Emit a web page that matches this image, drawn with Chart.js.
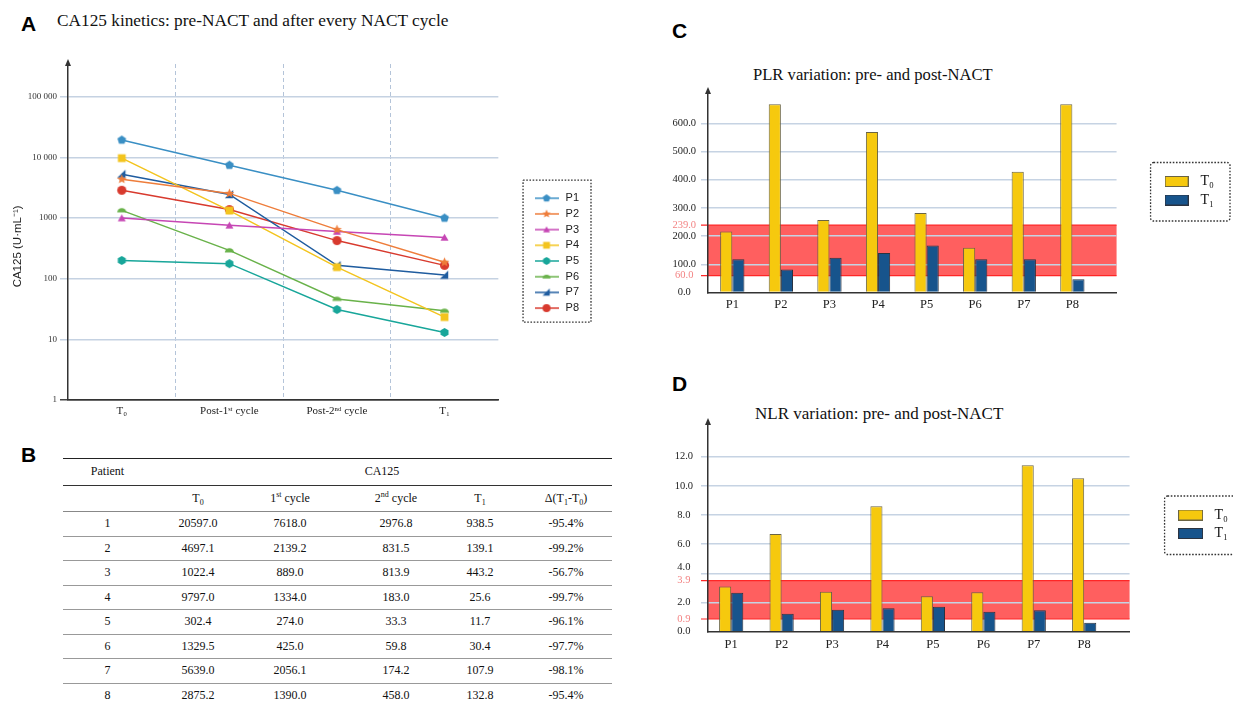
<!DOCTYPE html>
<html>
<head>
<meta charset="utf-8">
<script src="https://cdn.jsdelivr.net/npm/chart.js@4.4.0/dist/chart.umd.min.js"></script>
<style>
html, body { margin: 0; padding: 0; background: #fff; overflow: hidden; width: 1233px; height: 701px; }
.abs { position: absolute; white-space: nowrap; line-height: 1; }
.letter { font: bold 21px 'Liberation Sans', Arial, sans-serif; color: #000; }
.ttl { font-family: 'Liberation Serif', 'Times New Roman', serif; color: #111; }
canvas { position: absolute; }
#tbl { position: absolute; left: 63px; top: 458px; width: 549px; border-collapse: collapse; table-layout: fixed;
       font: 12px 'Liberation Serif', 'Times New Roman', serif; color: #111; border-top: 1.5px solid #222; }
#tbl td { padding: 0; text-align: center; vertical-align: middle; line-height: 1.1; }
#tbl tr.h1 td { height: 26px; border-bottom: 1.5px solid #333; }
#tbl tr.h2 td { height: 25px; border-bottom: 1.5px solid #888; }
#tbl tr.r td { height: 23.5px; border-bottom: 1.5px solid #999; }
#tbl tr.r:last-child td { border-bottom: none; }
#tbl td.c3 { padding-right: 8px; }
#tbl td.c4 { padding-left: 9px; }
#tbl td.c5 { padding-right: 8px; }
#tbl td.c6 { padding-right: 9px; }
#tbl sub, #tbl sup { font-size: 8px; line-height: 0; }
</style>
</head>
<body>
<div class="abs letter" style="left:21px; top:12px;">A</div>
<div class="abs ttl" style="left:57px; top:11.5px; font-size:17.3px;">CA125 kinetics: pre-NACT and after every NACT cycle</div>
<canvas id="chartA" width="610" height="390" style="left:0; top:40px;"></canvas>

<div class="abs letter" style="left:21px; top:443px;">B</div>
<table id="tbl"></table>

<div class="abs letter" style="left:672px; top:19px;">C</div>
<div class="abs ttl" style="left:753px; top:67px; font-size:16.6px;">PLR variation: pre- and post-NACT</div>
<canvas id="chartC" width="573" height="265" style="left:660px; top:55px;"></canvas>

<div class="abs letter" style="left:672px; top:372px;">D</div>
<div class="abs ttl" style="left:755px; top:405px; font-size:17px;">NLR variation: pre- and post-NACT</div>
<canvas id="chartD" width="600" height="265" style="left:660px; top:395px;"></canvas>

<script>
// ---- panel A data ----
const timepoints = ['T\u2080', 'Post-1\u02E2\u1D57 cycle', 'Post-2\u207F\u1D48 cycle', 'T\u2081'];
const patients = ['P1', 'P2', 'P3', 'P4', 'P5', 'P6', 'P7', 'P8'];
const caP1 = [19400, 7450, 2870, 1000];
const caP2 = [4370, 2550, 645, 187];
const caP3 = [1000, 760, 600, 480];
const caP4 = [9730, 1330, 155, 23.3];
const caP5 = [200, 177, 31, 13];
const caP6 = [1340, 293, 46.4, 29.5];
const caP7 = [5290, 2450, 166, 115];
const caP8 = [2870, 1380, 425, 166];
const caSeries = [caP1, caP2, caP3, caP4, caP5, caP6, caP7, caP8];
const lineColors = ['#3a8fc4', '#ee7d3b', '#c646b4', '#f3c41e', '#18a69a', '#69b24a', '#1f5c9f', '#d83a2e'];
const markerShapes = ['pentagon', 'star', 'triangle', 'square', 'hexagon', 'dome', 'flag', 'circle'];
const caTicks = [1, 10, 100, 1000, 10000, 100000];
const caTickLabels = ['1', '10', '100', '1000', '10 000', '100 000'];

// ---- panel B table ----
const tblHeads = ['', 'T<sub>0</sub>', '1<sup>st</sup> cycle', '2<sup>nd</sup> cycle', 'T<sub>1</sub>', '&Delta;(T<sub>1</sub>-T<sub>0</sub>)'];
const tblPatient = [1, 2, 3, 4, 5, 6, 7, 8];
const tblT0 = [20597.0, 4697.1, 1022.4, 9797.0, 302.4, 1329.5, 5639.0, 2875.2];
const tbl1st = [7618.0, 2139.2, 889.0, 1334.0, 274.0, 425.0, 2056.1, 1390.0];
const tbl2nd = [2976.8, 831.5, 813.9, 183.0, 33.3, 59.8, 174.2, 458.0];
const tblT1 = [938.5, 139.1, 443.2, 25.6, 11.7, 30.4, 107.9, 132.8];
const tblDelta = [-95.4, -99.2, -56.7, -99.7, -96.1, -97.7, -98.1, -95.4];

// ---- panels C and D ----
const barLabels = ['T\u2080', 'T\u2081'];
const plrT0 = [216, 668, 257, 569, 282, 159, 428, 668];
const plrT1 = [118, 82, 123, 140, 167, 118, 118, 47];
const plrTicks = [0, 100, 200, 300, 400, 500, 600];
const plrBand = [60, 239];
const plrBandLabels = ['60.0', '239.0'];
const nlrT0 = [3.09, 6.70, 2.74, 8.6, 2.43, 2.70, 11.41, 10.52];
const nlrT1 = [2.67, 1.23, 1.51, 1.6, 1.71, 1.37, 1.47, 0.62];
const nlrTicks = [0, 2, 4, 6, 8, 10, 12];
const nlrBand = [0.87, 3.5];
const nlrBandLabels = ['0.9', '3.9'];

const SERIF = "'Liberation Serif', 'Times New Roman', serif";
const SANS = "'Liberation Sans', Arial, sans-serif";
Chart.defaults.font.family = SERIF;
Chart.defaults.animation = false;

function tracePath(g, shape, r) {
    g.beginPath();
    if (shape === 'circle') {
        g.arc(0, 0, r, 0, Math.PI * 2);
    } else if (shape === 'square') {
        g.rect(-r * 0.85, -r * 0.85, r * 1.7, r * 1.7);
    } else if (shape === 'star') {
        for (let k = 0; k < 10; k++) {
            const a = -Math.PI / 2 + k * Math.PI / 5;
            const rr = k % 2 ? r * 0.5 : r * 1.1;
            g.lineTo(Math.cos(a) * rr, Math.sin(a) * rr);
        }
        g.closePath();
    } else if (shape === 'flag') {
        g.moveTo(r * 0.8, -r);
        g.lineTo(r * 0.8, r * 0.8);
        g.lineTo(-r, r * 0.8);
        g.closePath();
    } else if (shape === 'dome') {
        g.ellipse(0, r * 0.45, r, r * 0.95, 0, Math.PI, 0);
        g.closePath();
    } else {
        const n = { triangle: 3, pentagon: 5, hexagon: 6 }[shape];
        const dy = shape === 'triangle' ? r * 0.2 : 0;
        for (let k = 0; k < n; k++) {
            const a = -Math.PI / 2 + k * 2 * Math.PI / n;
            g.lineTo(Math.cos(a) * r, Math.sin(a) * r + dy);
        }
        g.closePath();
    }
}

function markerImage(shape, color, r) {
    const s = Math.ceil(r * 2 + 3);
    const c = document.createElement('canvas');
    c.width = s; c.height = s;
    const g = c.getContext('2d');
    g.translate(s / 2, s / 2);
    g.fillStyle = color;
    tracePath(g, shape, r);
    g.fill();
    return c;
}

function legendIcon(shape, color) {
    const c = document.createElement('canvas');
    c.width = 24; c.height = 12;
    const g = c.getContext('2d');
    g.strokeStyle = color; g.lineWidth = 1.5;
    g.beginPath(); g.moveTo(0, 6); g.lineTo(24, 6); g.stroke();
    g.translate(12, 6);
    g.fillStyle = color;
    tracePath(g, shape, 4);
    g.fill();
    return c;
}

function barIcon(fill, stroke, w, h) {
    const c = document.createElement('canvas');
    c.width = w; c.height = h;
    const g = c.getContext('2d');
    g.fillStyle = fill; g.fillRect(0, 0, w, h);
    g.strokeStyle = stroke; g.lineWidth = 1; g.strokeRect(0.5, 0.5, w - 1, h - 1);
    return c;
}

// arrow head on top of the y axis
const axisArrow = {
    id: 'axisArrow',
    afterDraw(chart) {
        const ctx = chart.ctx, x = chart.chartArea.left, top = chart.chartArea.top;
        ctx.save();
        ctx.fillStyle = '#333';
        ctx.beginPath();
        ctx.moveTo(x, top - 5);
        ctx.lineTo(x - 3, top + 2);
        ctx.lineTo(x + 3, top + 2);
        ctx.closePath();
        ctx.fill();
        ctx.restore();
    }
};

// red reference range behind the bars
const normalBand = {
    id: 'normalBand',
    beforeDraw(chart, args, opts) {
        if (!opts.range) return;
        const ctx = chart.ctx, a = chart.chartArea, y = chart.scales.y;
        const yTop = y.getPixelForValue(opts.range[1]);
        const yBot = y.getPixelForValue(opts.range[0]);
        ctx.save();
        ctx.fillStyle = 'rgba(255, 78, 78, 0.9)';
        ctx.fillRect(a.left, yTop, a.right - a.left, yBot - yTop);
        ctx.strokeStyle = '#ff2626';
        ctx.lineWidth = 1.2;
        ctx.beginPath();
        ctx.moveTo(a.left - 7, yTop); ctx.lineTo(a.right, yTop);
        ctx.moveTo(a.left - 7, yBot); ctx.lineTo(a.right, yBot);
        ctx.stroke();
        ctx.restore();
    }
};

// dotted frame round the legend
const legendFrame = {
    id: 'legendFrame',
    afterDraw(chart, args, o) {
        const boxes = chart.legend && chart.legend.legendHitBoxes;
        if (!boxes || !boxes.length) return;
        const l = Math.min(...boxes.map(b => b.left));
        const r = Math.max(...boxes.map(b => b.left + b.width));
        const t = boxes[0].top;
        const last = boxes[boxes.length - 1];
        const b = last.top + last.height;
        const ctx = chart.ctx;
        ctx.save();
        ctx.setLineDash([1.6, 1.6]);
        ctx.strokeStyle = '#333';
        ctx.lineWidth = 1.3;
        ctx.beginPath();
        ctx.roundRect(l - o.l, t - o.t, r - l + o.l + o.r, b - t + o.t + o.b, o.radius || 0);
        ctx.stroke();
        ctx.restore();
    }
};

// ---------- panel A ----------
const markerImgs = markerShapes.map((s, i) => markerImage(s, lineColors[i], 4.6));
const legendIcons = markerShapes.map((s, i) => legendIcon(s, lineColors[i]));

new Chart(document.getElementById('chartA'), {
    type: 'line',
    data: {
        labels: timepoints,
        datasets: patients.map((p, i) => ({
            label: p,
            data: caSeries[i],
            borderColor: lineColors[i],
            backgroundColor: lineColors[i],
            borderWidth: 1.5,
            pointStyle: markerImgs[i],
            pointRadius: 5,
            tension: 0
        }))
    },
    plugins: [axisArrow, legendFrame],
    options: {
        responsive: false,
        events: [],
        layout: { padding: { left: 7, top: 24, right: 21, bottom: 0 } },
        scales: {
            x: {
                type: 'category',
                offset: true,
                grid: {
                    offset: true,
                    drawTicks: false,
                    lineWidth: 1,
                    color: (c) => (c.index === undefined || c.index === 0) ? 'rgba(0,0,0,0)' : '#b4c4d9'
                },
                border: { display: true, color: '#333', width: 1.5, dash: [4, 3] },
                ticks: { font: { family: SERIF, size: 11 }, color: '#222', padding: 5, maxRotation: 0 },
                afterFit: (s) => { s.height = 30; }
            },
            y: {
                type: 'logarithmic',
                min: 1,
                max: 347000,
                afterBuildTicks: (s) => { s.ticks = caTicks.map(v => ({ value: v })); },
                ticks: {
                    autoSkip: false,
                    font: { family: SERIF, size: 9 },
                    color: '#333',
                    padding: 3,
                    callback: (v) => caTickLabels[caTicks.indexOf(v)]
                },
                grid: {
                    lineWidth: 1.5,
                    tickLength: 8,
                    color: (c) => (c.tick && c.tick.value === 1) ? '#444' : '#c5d2e2'
                },
                border: { color: '#333', width: 1.5 },
                title: {
                    display: true,
                    // trailing en spaces push the rotated caption a little lower, as in the figure
                    text: 'CA125 (U\u00B7mL\u207B\u00B9)\u2002\u2002\u2002\u2002\u2002',
                    font: { family: SANS, size: 11.5 },
                    color: '#222',
                    padding: { top: 4, bottom: 4 }
                },
                afterFit: (s) => { s.width = 61; }
            },
            gap: {
                position: 'right',
                grid: { display: false, drawTicks: false },
                border: { display: false },
                ticks: { display: false },
                afterFit: (s) => { s.width = 30; }
            }
        },
        plugins: {
            tooltip: { enabled: false },
            legend: {
                position: 'right',
                align: 'start',
                fullSize: false,
                title: { display: true, text: '', font: { size: 10 }, padding: { top: 0, bottom: 112 } },
                labels: {
                    usePointStyle: true,
                    pointStyleWidth: 27,
                    padding: 4.7,
                    font: { family: SANS, size: 11 },
                    color: '#222',
                    generateLabels: (chart) => chart.data.datasets.map((ds, i) => ({
                        text: ds.label, pointStyle: legendIcons[i], fillStyle: ds.borderColor,
                        strokeStyle: ds.borderColor, lineWidth: 0, hidden: false, datasetIndex: i, fontColor: '#222'
                    }))
                }
            },
            legendFrame: { l: 10, r: 12, t: 12.5, b: 8.5, radius: 0 }
        }
    }
});

// ---------- panel B ----------
(function buildTable() {
    const tbl = document.getElementById('tbl');
    let html = '<colgroup><col style="width:89px"><col style="width:92px"><col style="width:100px">' +
        '<col style="width:95px"><col style="width:90px"><col style="width:83px"></colgroup>';
    html += '<tr class="h1"><td>Patient</td><td colspan="5">CA125</td></tr>';
    html += '<tr class="h2">' + tblHeads.map((h, j) => `<td class="c${j + 1}">${h}</td>`).join('') + '</tr>';
    tblPatient.forEach((p, i) => {
        const cells = [p, tblT0[i].toFixed(1), tbl1st[i].toFixed(1), tbl2nd[i].toFixed(1),
            tblT1[i].toFixed(1), tblDelta[i].toFixed(1) + '%'];
        html += '<tr class="r">' + cells.map((c, j) => `<td class="c${j + 1}">${c}</td>`).join('') + '</tr>';
    });
    tbl.innerHTML = html;
})();

// ---------- panels C and D ----------
const barColors = ['#f6c90e', '#17548c'];
const barBorders = ['#6a6444', '#2b3340'];

function makeBarChart(id, t0, t1, ticks, band, bandLabels, g) {
    const icons = barColors.map((c, k) => barIcon(c, barBorders[k], g.iconW, 11));
    const series = [t0, t1];
    return new Chart(document.getElementById(id), {
        type: 'bar',
        data: {
            datasets: series.map((vals, k) => ({
                label: barLabels[k],
                data: vals.map((v, i) => ({ x: i + 1, y: v })),
                backgroundColor: barColors[k],
                borderColor: barBorders[k],
                borderWidth: 1,
                categoryPercentage: g.catPct,
                barPercentage: 1
            }))
        },
        plugins: [normalBand, axisArrow, legendFrame],
        options: {
            responsive: false,
            events: [],
            layout: { padding: { left: 0, top: g.padTop, right: g.padRight, bottom: 0 } },
            scales: {
                x: {
                    type: 'linear',
                    offset: false,
                    min: g.xMin,
                    max: g.xMax,
                    afterBuildTicks: (s) => { s.ticks = patients.map((p, i) => ({ value: i + 1 })); },
                    ticks: {
                        autoSkip: false, maxRotation: 0,
                        font: { family: SERIF, size: 12.5 }, color: '#222', padding: g.xPad,
                        callback: (v) => patients[v - 1]
                    },
                    grid: { display: false, drawTicks: false, offset: false },
                    border: { color: '#333', width: 1.5 },
                    afterFit: (s) => { s.height = g.xH; }
                },
                y: {
                    type: 'linear',
                    min: 0,
                    max: g.yMax,
                    afterBuildTicks: (s) => {
                        s.ticks = ticks.concat(band).sort((a, b) => a - b).map(v => ({ value: v }));
                    },
                    ticks: {
                        autoSkip: false,
                        crossAlign: 'center',
                        padding: g.yPad,
                        font: { family: SERIF, size: 10.5 },
                        color: (c) => band.includes(c.tick.value) ? '#f38383' : '#222',
                        callback: (v) => {
                            const bi = band.indexOf(v);
                            if (bi >= 0) return bandLabels[bi];
                            const txt = v.toFixed(1);
                            // a label crowded by the band edge label is lifted half a line
                            if (v > band[1] && v - band[1] < g.crowd) return [txt, ''];
                            return txt;
                        }
                    },
                    grid: {
                        lineWidth: 1.5,
                        tickLength: 7,
                        color: (c) => (!c.tick || c.tick.value === 0 || band.includes(c.tick.value)) ? 'rgba(0,0,0,0)' : '#c6d3e3'
                    },
                    border: { color: '#333', width: 1.5 },
                    afterFit: (s) => { s.width = 48; }
                },
                gap: {
                    position: 'right',
                    grid: { display: false, drawTicks: false },
                    border: { display: false },
                    ticks: { display: false },
                    afterFit: (s) => { s.width = g.gapW; }
                }
            },
            plugins: {
                tooltip: { enabled: false },
                normalBand: { range: band },
                legend: {
                    position: 'right',
                    align: 'start',
                    fullSize: false,
                    title: { display: true, text: '', font: { size: 10 }, padding: { top: 0, bottom: g.legendDrop } },
                    labels: {
                        usePointStyle: true,
                        pointStyleWidth: 34,
                        padding: 4.5,
                        font: { family: SERIF, size: 14 },
                        color: '#111',
                        generateLabels: (chart) => chart.data.datasets.map((ds, k) => ({
                            text: ds.label, pointStyle: icons[k], fillStyle: ds.backgroundColor,
                            strokeStyle: ds.borderColor, lineWidth: 0, hidden: false, datasetIndex: k, fontColor: '#111'
                        }))
                    }
                },
                legendFrame: { l: 9, r: 16, t: 12, b: 14, radius: 3 }
            }
        }
    });
}

makeBarChart('chartC', plrT0, plrT1, plrTicks, plrBand, plrBandLabels, {
    iconW: 24, catPct: 0.5, padTop: 37, padRight: 9, xMin: 0.5, xMax: 8.91, xPad: 5, xH: 27.5,
    yMax: 711, yPad: 5, crowd: 0, gapW: 38.5, legendDrop: 66
});

makeBarChart('chartD', nlrT0, nlrT1, nlrTicks, nlrBand, nlrBandLabels, {
    iconW: 25, catPct: 0.48, padTop: 28, padRight: 22, xMin: 0.54, xMax: 8.9, xPad: 5.8, xH: 28.3,
    yMax: 14.3, yPad: 8, crowd: 0.8, gapW: 39.5, legendDrop: 68.5
});
</script>
</body>
</html>
